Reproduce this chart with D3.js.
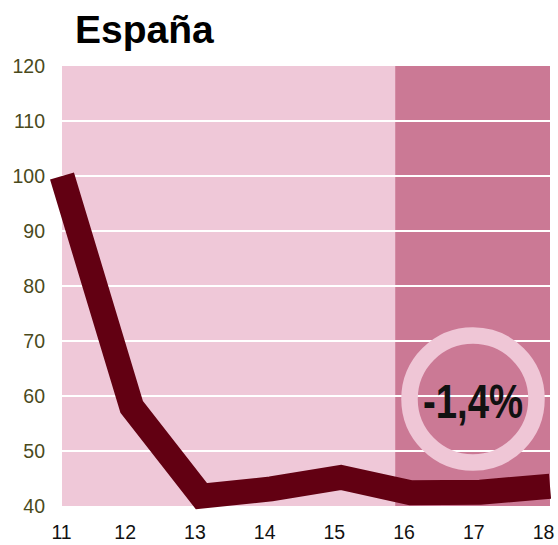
<!DOCTYPE html>
<html>
<head>
<meta charset="utf-8">
<script src="https://cdn.jsdelivr.net/npm/d3@7"></script>
<style>
  html, body { margin: 0; padding: 0; background: #ffffff; }
  svg { display: block; }
</style>
</head>
<body>
<svg id="chart" width="558" height="545"></svg>
<script>
// Index series (base year 11 = 100)
const years = [11, 12, 13, 14, 15, 16, 17, 18];
const values = [100, 58, 41.8, 43.1, 45.2, 42.4, 42.5, 43.6];
const yTicks = [40, 50, 60, 70, 80, 90, 100, 110, 120];
const gridTicks = [50, 60, 70, 80, 90, 100, 110];
const forecastStart = [15.78];
const title = ["España"];
const badge = ["-1,4%"];

const svg = d3.select("#chart");
const plotLeft = 62, plotRight = 550, plotTop = 66, plotBottom = 506;

const x = d3.scaleLinear().domain([11, 18]).range([plotLeft, plotRight]);
const y = d3.scaleLinear().domain([40, 120]).range([plotBottom, plotTop]);

// plot background
svg.append("rect")
  .attr("x", x(11)).attr("y", y(120))
  .attr("width", x(18) - x(11)).attr("height", y(40) - y(120))
  .attr("fill", "#efc8d8");

// shaded projection period
svg.append("rect")
  .attr("x", x(forecastStart[0])).attr("y", y(120))
  .attr("width", x(18) - x(forecastStart[0])).attr("height", y(40) - y(120))
  .attr("fill", "#cb7995");

// horizontal gridlines
svg.append("g").selectAll("line").data(gridTicks).join("line")
  .attr("x1", x(11)).attr("x2", x(18))
  .attr("y1", d => y(d)).attr("y2", d => y(d))
  .attr("stroke", "#ffffff").attr("stroke-width", 2);

// y axis labels
const yAxis = d3.axisLeft(y).tickValues(yTicks).tickSize(0).tickPadding(17);
svg.append("g")
  .attr("transform", `translate(${plotLeft},0)`)
  .call(yAxis)
  .call(g => g.select(".domain").remove())
  .call(g => g.selectAll("text")
    .attr("fill", "#4a4a1c")
    .attr("font-family", "Liberation Sans, Arial, sans-serif")
    .attr("font-size", 19.5));

// x axis labels
const xAxis = d3.axisBottom(x).tickValues(years).tickSize(0).tickPadding(19)
  .tickFormat(d3.format("d"));
svg.append("g")
  .attr("transform", `translate(0,${plotBottom})`)
  .call(xAxis)
  .call(g => g.select(".domain").remove())
  .call(g => g.selectAll("text")
    .attr("fill", "#111111")
    .attr("dx", (d, i) => i === 0 ? -1 : -7)
    .attr("font-family", "Liberation Sans, Arial, sans-serif")
    .attr("font-size", 19.5));

// badge ring
const bx = 473, by = 399;
svg.append("circle")
  .attr("cx", bx).attr("cy", by).attr("r", 63.5)
  .attr("fill", "none")
  .attr("stroke", "#efc6d6").attr("stroke-width", 16.5);

// index line
const line = d3.line().x((d, i) => x(years[i])).y(d => y(d));
svg.append("path")
  .datum(values)
  .attr("d", line)
  .attr("fill", "none")
  .attr("stroke", "#620012")
  .attr("stroke-width", 25)
  .attr("stroke-linejoin", "miter")
  .attr("stroke-linecap", "butt");

// badge text, condensed
svg.append("text")
  .attr("x", bx).attr("y", by + 19)
  .attr("text-anchor", "middle")
  .attr("font-family", "Liberation Sans, Arial, sans-serif")
  .attr("font-weight", "bold")
  .attr("font-size", 48)
  .attr("textLength", 100)
  .attr("lengthAdjust", "spacingAndGlyphs")
  .attr("fill", "#111111")
  .text(badge[0]);

// title
svg.append("text")
  .attr("x", 75).attr("y", 43)
  .attr("font-family", "Liberation Sans, Arial, sans-serif")
  .attr("font-weight", "bold")
  .attr("font-size", 39)
  .attr("fill", "#000000")
  .text(title[0]);
</script>
</body>
</html>
